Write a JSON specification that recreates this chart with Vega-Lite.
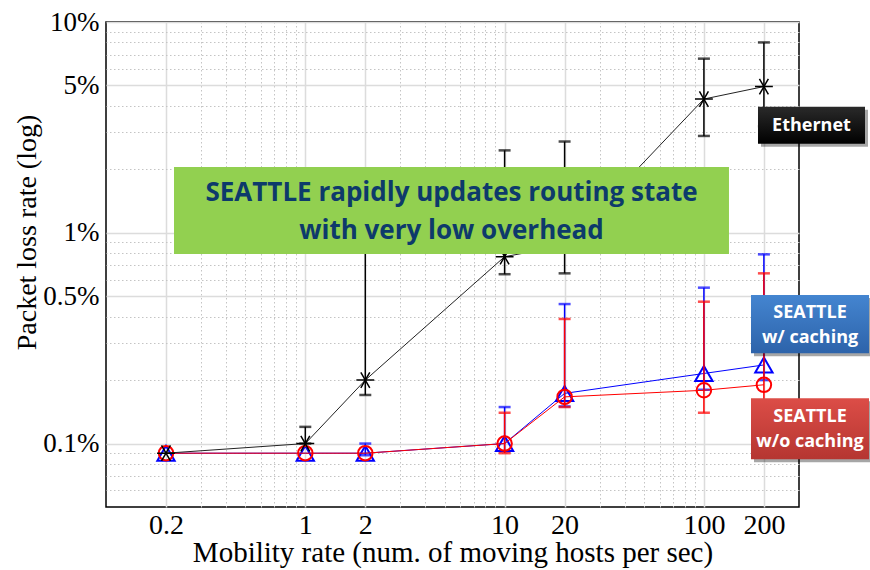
{
  "$schema": "https://vega.github.io/schema/vega-lite/v6.json",
  "width": 693,
  "height": 485,
  "autosize": {"type": "none"},
  "padding": {"left": 106, "top": 22, "right": 71, "bottom": 63},
  "background": "white",
  "config": {
    "font": "Liberation Serif",
    "view": {"stroke": "black", "strokeWidth": 1.5},
    "axis": {
      "labelFont": "Liberation Serif",
      "titleFont": "Liberation Serif",
      "labelColor": "black",
      "titleColor": "black",
      "titleFontWeight": "normal",
      "ticks": false,
      "domain": false
    }
  },
  "datasets": {
    "pts": [
      {"series": "eth", "x": 0.2, "y": 0.09},
      {"series": "eth", "x": 1, "y": 0.1, "lo": 0.1, "hi": 0.12},
      {"series": "eth", "x": 2, "y": 0.2, "lo": 0.17, "hi": 1.5},
      {"series": "eth", "x": 10, "y": 0.77, "lo": 0.636, "hi": 2.46},
      {"series": "eth", "x": 20, "y": 0.87, "lo": 0.642, "hi": 2.71},
      {"series": "eth", "x": 100, "y": 4.31, "lo": 2.88, "hi": 6.7},
      {"series": "eth", "x": 200, "y": 4.94, "lo": 3.2, "hi": 8.0},
      {"series": "cache", "x": 0.2, "y": 0.09},
      {"series": "cache", "x": 1, "y": 0.09},
      {"series": "cache", "x": 2, "y": 0.09, "lo": 0.088, "hi": 0.1},
      {"series": "cache", "x": 10, "y": 0.1, "lo": 0.092, "hi": 0.149},
      {"series": "cache", "x": 20, "y": 0.173, "lo": 0.15, "hi": 0.459},
      {"series": "cache", "x": 100, "y": 0.215, "lo": 0.18, "hi": 0.549},
      {"series": "cache", "x": 200, "y": 0.236, "lo": 0.2, "hi": 0.79},
      {"series": "nocache", "x": 0.2, "y": 0.09},
      {"series": "nocache", "x": 1, "y": 0.09},
      {"series": "nocache", "x": 2, "y": 0.09},
      {"series": "nocache", "x": 10, "y": 0.1, "lo": 0.09, "hi": 0.14},
      {"series": "nocache", "x": 20, "y": 0.1665, "lo": 0.149, "hi": 0.39},
      {"series": "nocache", "x": 100, "y": 0.179, "lo": 0.14, "hi": 0.471},
      {"series": "nocache", "x": 200, "y": 0.19, "lo": 0.13, "hi": 0.642}
    ],
    "boxes": [
      {"name": "green", "x1": 0.2194, "x2": 133.6, "y1": 2.054, "y2": 0.793, "tx": 5.414, "ty": 1.546, "label": "SEATTLE rapidly updates routing state|with very low overhead"},
      {"name": "eth", "x1": 186.8, "x2": 643.1, "y1": 3.96, "y2": 2.642, "tx": 346.6, "ty": 3.217, "label": "Ethernet"},
      {"name": "cache", "x1": 172.3, "x2": 673.6, "y1": 0.5064, "y2": 0.2685, "tx": 340.7, "ty": 0.4159, "label": "SEATTLE|w/ caching"},
      {"name": "nocache", "x1": 172.3, "x2": 673.6, "y1": 0.1642, "y2": 0.0842, "tx": 340.7, "ty": 0.1334, "label": "SEATTLE|w/o caching"}
    ]
  },
  "layer": [
    {
      "data": {"name": "pts"},
      "mark": {"type": "point", "opacity": 0},
      "encoding": {
        "x": {"field": "x", "type": "quantitative", "scale": {"type": "log", "domain": [0.1, 300], "nice": false},
          "axis": {"orient": "top", "values": [0.3, 0.4, 0.5, 0.6, 0.7, 0.8, 0.9, 3, 4, 5, 6, 7, 8, 9, 30, 40, 50, 60, 70, 80, 90], "grid": true, "gridDash": [1.5, 2.5], "gridColor": "#c4c4c4", "gridWidth": 1, "labels": false, "title": null}},
        "y": {"field": "y", "type": "quantitative", "scale": {"type": "log", "domain": [0.05, 10], "nice": false},
          "axis": {"orient": "right", "values": [0.06, 0.07, 0.08, 0.09, 0.2, 0.3, 0.4, 0.6, 0.7, 0.8, 0.9, 2, 3, 4, 6, 7, 8, 9], "grid": true, "gridDash": [1.5, 2.5], "gridColor": "#c4c4c4", "gridWidth": 1, "labels": false, "title": null}}
      }
    },
    {
      "data": {"name": "pts"},
      "mark": {"type": "point", "opacity": 0},
      "encoding": {
        "x": {"field": "x", "type": "quantitative", "scale": {"type": "log", "domain": [0.1, 300], "nice": false},
          "axis": {"orient": "bottom", "values": [0.2, 1, 2, 10, 20, 100, 200], "format": "~g", "grid": true, "gridColor": "#dcdcdc", "gridWidth": 1.5, "labelFont": "Liberation Serif", "labelFontSize": 28, "labelPadding": 4, "labelFlush": false, "labelOverlap": false,
            "title": "Mobility rate (num. of moving hosts per sec)", "titleFont": "Liberation Serif", "titleFontSize": 29, "titleBaseline": "alphabetic", "titleY": 54}},
        "y": {"field": "y", "type": "quantitative", "scale": {"type": "log", "domain": [0.05, 10], "nice": false},
          "axis": {"orient": "left", "values": [0.1, 0.5, 1, 5, 10], "format": "~g", "labelExpr": "datum.label + '%'", "grid": true, "gridColor": "#dcdcdc", "gridWidth": 1.5, "labelFont": "Liberation Serif", "labelFontSize": 27, "labelPadding": 7, "labelFlush": false, "labelOverlap": false,
            "title": "Packet loss rate (log)", "titleFont": "Liberation Serif", "titleFontSize": 28, "titleBaseline": "alphabetic", "titleX": -71, "titleY": 210}}
      }
    },
    {
      "data": {"name": "pts"},
      "transform": [{"filter": "datum.series === 'cache' && isValid(datum.hi)"}],
      "mark": {"type": "rule", "color": "#0000ff", "strokeWidth": 1.5},
      "encoding": {
        "x": {"field": "x", "type": "quantitative", "scale": {"type": "log", "domain": [0.1, 300], "nice": false}, "axis": null},
        "y": {"field": "lo", "type": "quantitative", "scale": {"type": "log", "domain": [0.05, 10], "nice": false}, "axis": null},
        "y2": {"field": "hi"}
      }
    },
    {
      "data": {"name": "pts"},
      "transform": [{"filter": "datum.series === 'cache' && isValid(datum.hi)"}],
      "mark": {"type": "tick", "orient": "horizontal", "color": "#0000ff", "size": 12, "thickness": 2.5},
      "encoding": {
        "x": {"field": "x", "type": "quantitative", "scale": {"type": "log", "domain": [0.1, 300], "nice": false}, "axis": null},
        "y": {"field": "hi", "type": "quantitative", "scale": {"type": "log", "domain": [0.05, 10], "nice": false}, "axis": null}
      }
    },
    {
      "data": {"name": "pts"},
      "transform": [{"filter": "datum.series === 'cache' && isValid(datum.lo)"}],
      "mark": {"type": "tick", "orient": "horizontal", "color": "#0000ff", "size": 12, "thickness": 2.5},
      "encoding": {
        "x": {"field": "x", "type": "quantitative", "scale": {"type": "log", "domain": [0.1, 300], "nice": false}, "axis": null},
        "y": {"field": "lo", "type": "quantitative", "scale": {"type": "log", "domain": [0.05, 10], "nice": false}, "axis": null}
      }
    },
    {
      "data": {"name": "pts"},
      "transform": [{"filter": "datum.series === 'cache'"}],
      "mark": {"type": "line", "color": "#0000ff", "strokeWidth": 1},
      "encoding": {
        "x": {"field": "x", "type": "quantitative", "scale": {"type": "log", "domain": [0.1, 300], "nice": false}, "axis": null},
        "y": {"field": "y", "type": "quantitative", "scale": {"type": "log", "domain": [0.05, 10], "nice": false}, "axis": null}
      }
    },
    {
      "data": {"name": "pts"},
      "transform": [{"filter": "datum.series === 'cache'"}],
      "mark": {"type": "point", "shape": "triangle-up", "filled": false, "color": "#0000ff", "size": 300, "strokeWidth": 2, "opacity": 1},
      "encoding": {
        "x": {"field": "x", "type": "quantitative", "scale": {"type": "log", "domain": [0.1, 300], "nice": false}, "axis": null},
        "y": {"field": "y", "type": "quantitative", "scale": {"type": "log", "domain": [0.05, 10], "nice": false}, "axis": null}
      }
    },
    {
      "data": {"name": "pts"},
      "transform": [{"filter": "datum.series === 'nocache' && isValid(datum.hi)"}],
      "mark": {"type": "rule", "color": "#ff0000", "strokeWidth": 1.5},
      "encoding": {
        "x": {"field": "x", "type": "quantitative", "scale": {"type": "log", "domain": [0.1, 300], "nice": false}, "axis": null},
        "y": {"field": "lo", "type": "quantitative", "scale": {"type": "log", "domain": [0.05, 10], "nice": false}, "axis": null},
        "y2": {"field": "hi"}
      }
    },
    {
      "data": {"name": "pts"},
      "transform": [{"filter": "datum.series === 'nocache' && isValid(datum.hi)"}],
      "mark": {"type": "tick", "orient": "horizontal", "color": "#ff0000", "size": 12, "thickness": 2.5},
      "encoding": {
        "x": {"field": "x", "type": "quantitative", "scale": {"type": "log", "domain": [0.1, 300], "nice": false}, "axis": null},
        "y": {"field": "hi", "type": "quantitative", "scale": {"type": "log", "domain": [0.05, 10], "nice": false}, "axis": null}
      }
    },
    {
      "data": {"name": "pts"},
      "transform": [{"filter": "datum.series === 'nocache' && isValid(datum.lo)"}],
      "mark": {"type": "tick", "orient": "horizontal", "color": "#ff0000", "size": 12, "thickness": 2.5},
      "encoding": {
        "x": {"field": "x", "type": "quantitative", "scale": {"type": "log", "domain": [0.1, 300], "nice": false}, "axis": null},
        "y": {"field": "lo", "type": "quantitative", "scale": {"type": "log", "domain": [0.05, 10], "nice": false}, "axis": null}
      }
    },
    {
      "data": {"name": "pts"},
      "transform": [{"filter": "datum.series === 'nocache'"}],
      "mark": {"type": "line", "color": "#ff0000", "strokeWidth": 1},
      "encoding": {
        "x": {"field": "x", "type": "quantitative", "scale": {"type": "log", "domain": [0.1, 300], "nice": false}, "axis": null},
        "y": {"field": "y", "type": "quantitative", "scale": {"type": "log", "domain": [0.05, 10], "nice": false}, "axis": null}
      }
    },
    {
      "data": {"name": "pts"},
      "transform": [{"filter": "datum.series === 'nocache'"}],
      "mark": {"type": "point", "shape": "circle", "filled": false, "color": "#ff0000", "size": 210, "strokeWidth": 2, "opacity": 1},
      "encoding": {
        "x": {"field": "x", "type": "quantitative", "scale": {"type": "log", "domain": [0.1, 300], "nice": false}, "axis": null},
        "y": {"field": "y", "type": "quantitative", "scale": {"type": "log", "domain": [0.05, 10], "nice": false}, "axis": null}
      }
    },
    {
      "data": {"name": "pts"},
      "transform": [{"filter": "datum.series === 'eth' && isValid(datum.hi)"}],
      "mark": {"type": "rule", "color": "black", "strokeWidth": 1.5},
      "encoding": {
        "x": {"field": "x", "type": "quantitative", "scale": {"type": "log", "domain": [0.1, 300], "nice": false}, "axis": null},
        "y": {"field": "lo", "type": "quantitative", "scale": {"type": "log", "domain": [0.05, 10], "nice": false}, "axis": null},
        "y2": {"field": "hi"}
      }
    },
    {
      "data": {"name": "pts"},
      "transform": [{"filter": "datum.series === 'eth' && isValid(datum.hi)"}],
      "mark": {"type": "tick", "orient": "horizontal", "color": "black", "size": 12, "thickness": 2.5},
      "encoding": {
        "x": {"field": "x", "type": "quantitative", "scale": {"type": "log", "domain": [0.1, 300], "nice": false}, "axis": null},
        "y": {"field": "hi", "type": "quantitative", "scale": {"type": "log", "domain": [0.05, 10], "nice": false}, "axis": null}
      }
    },
    {
      "data": {"name": "pts"},
      "transform": [{"filter": "datum.series === 'eth' && isValid(datum.lo)"}],
      "mark": {"type": "tick", "orient": "horizontal", "color": "black", "size": 12, "thickness": 2.5},
      "encoding": {
        "x": {"field": "x", "type": "quantitative", "scale": {"type": "log", "domain": [0.1, 300], "nice": false}, "axis": null},
        "y": {"field": "lo", "type": "quantitative", "scale": {"type": "log", "domain": [0.05, 10], "nice": false}, "axis": null}
      }
    },
    {
      "data": {"name": "pts"},
      "transform": [{"filter": "datum.series === 'eth'"}],
      "mark": {"type": "line", "color": "#222222", "strokeWidth": 1},
      "encoding": {
        "x": {"field": "x", "type": "quantitative", "scale": {"type": "log", "domain": [0.1, 300], "nice": false}, "axis": null},
        "y": {"field": "y", "type": "quantitative", "scale": {"type": "log", "domain": [0.05, 10], "nice": false}, "axis": null}
      }
    },
    {
      "data": {"name": "pts"},
      "transform": [{"filter": "datum.series === 'eth'"}],
      "mark": {"type": "point", "shape": "M-1,0L1,0M-0.5,-0.866L0.5,0.866M-0.5,0.866L0.5,-0.866", "filled": false, "color": "black", "size": 320, "strokeWidth": 1.5, "opacity": 1},
      "encoding": {
        "x": {"field": "x", "type": "quantitative", "scale": {"type": "log", "domain": [0.1, 300], "nice": false}, "axis": null},
        "y": {"field": "y", "type": "quantitative", "scale": {"type": "log", "domain": [0.05, 10], "nice": false}, "axis": null}
      }
    },
    {
      "data": {"name": "boxes"},
      "transform": [{"filter": "datum.name === 'green'"}],
      "mark": {"type": "rect", "color": "#92D050"},
      "encoding": {
        "x": {"field": "x1", "type": "quantitative", "scale": {"type": "log", "domain": [0.1, 300], "nice": false}, "axis": null},
        "x2": {"field": "x2"},
        "y": {"field": "y1", "type": "quantitative", "scale": {"type": "log", "domain": [0.05, 10], "nice": false}, "axis": null},
        "y2": {"field": "y2"}
      }
    },
    {
      "data": {"name": "boxes"},
      "transform": [{"filter": "datum.name !== 'green'"}],
      "mark": {"type": "rect", "color": "black", "opacity": 0.35, "xOffset": 3, "x2Offset": 3, "yOffset": 3, "y2Offset": 3},
      "encoding": {
        "x": {"field": "x1", "type": "quantitative", "scale": {"type": "log", "domain": [0.1, 300], "nice": false}, "axis": null},
        "x2": {"field": "x2"},
        "y": {"field": "y1", "type": "quantitative", "scale": {"type": "log", "domain": [0.05, 10], "nice": false}, "axis": null},
        "y2": {"field": "y2"}
      }
    },
    {
      "data": {"name": "boxes"},
      "transform": [{"filter": "datum.name === 'eth'"}],
      "mark": {"type": "rect", "color": {"gradient": "linear", "x1": 0, "y1": 0, "x2": 0, "y2": 1, "stops": [{"offset": 0, "color": "#2a2a2a"}, {"offset": 1, "color": "#000000"}]}},
      "encoding": {
        "x": {"field": "x1", "type": "quantitative", "scale": {"type": "log", "domain": [0.1, 300], "nice": false}, "axis": null},
        "x2": {"field": "x2"},
        "y": {"field": "y1", "type": "quantitative", "scale": {"type": "log", "domain": [0.05, 10], "nice": false}, "axis": null},
        "y2": {"field": "y2"}
      }
    },
    {
      "data": {"name": "boxes"},
      "transform": [{"filter": "datum.name === 'cache'"}],
      "mark": {"type": "rect", "color": {"gradient": "linear", "x1": 0, "y1": 0, "x2": 0, "y2": 1, "stops": [{"offset": 0, "color": "#4485d0"}, {"offset": 1, "color": "#2d63aa"}]}},
      "encoding": {
        "x": {"field": "x1", "type": "quantitative", "scale": {"type": "log", "domain": [0.1, 300], "nice": false}, "axis": null},
        "x2": {"field": "x2"},
        "y": {"field": "y1", "type": "quantitative", "scale": {"type": "log", "domain": [0.05, 10], "nice": false}, "axis": null},
        "y2": {"field": "y2"}
      }
    },
    {
      "data": {"name": "boxes"},
      "transform": [{"filter": "datum.name === 'nocache'"}],
      "mark": {"type": "rect", "color": {"gradient": "linear", "x1": 0, "y1": 0, "x2": 0, "y2": 1, "stops": [{"offset": 0, "color": "#dc4d47"}, {"offset": 1, "color": "#b53631"}]}},
      "encoding": {
        "x": {"field": "x1", "type": "quantitative", "scale": {"type": "log", "domain": [0.1, 300], "nice": false}, "axis": null},
        "x2": {"field": "x2"},
        "y": {"field": "y1", "type": "quantitative", "scale": {"type": "log", "domain": [0.05, 10], "nice": false}, "axis": null},
        "y2": {"field": "y2"}
      }
    },
    {
      "data": {"name": "boxes"},
      "transform": [{"filter": "datum.name === 'green'"}],
      "mark": {"type": "text", "font": "Open Sans", "fontWeight": "bold", "fontSize": 26, "color": "#0d3a6b", "align": "center", "baseline": "middle", "lineBreak": "|", "lineHeight": 38},
      "encoding": {
        "x": {"field": "tx", "type": "quantitative", "scale": {"type": "log", "domain": [0.1, 300], "nice": false}, "axis": null},
        "y": {"field": "ty", "type": "quantitative", "scale": {"type": "log", "domain": [0.05, 10], "nice": false}, "axis": null},
        "text": {"field": "label"}
      }
    },
    {
      "data": {"name": "boxes"},
      "transform": [{"filter": "datum.name !== 'green'"}],
      "mark": {"type": "text", "font": "Open Sans", "fontWeight": "bold", "fontSize": 18, "color": "white", "align": "center", "baseline": "middle", "lineBreak": "|", "lineHeight": 25},
      "encoding": {
        "x": {"field": "tx", "type": "quantitative", "scale": {"type": "log", "domain": [0.1, 300], "nice": false}, "axis": null},
        "y": {"field": "ty", "type": "quantitative", "scale": {"type": "log", "domain": [0.05, 10], "nice": false}, "axis": null},
        "text": {"field": "label"}
      }
    }
  ],
  "resolve": {"axis": {"x": "independent", "y": "independent"}}
}
